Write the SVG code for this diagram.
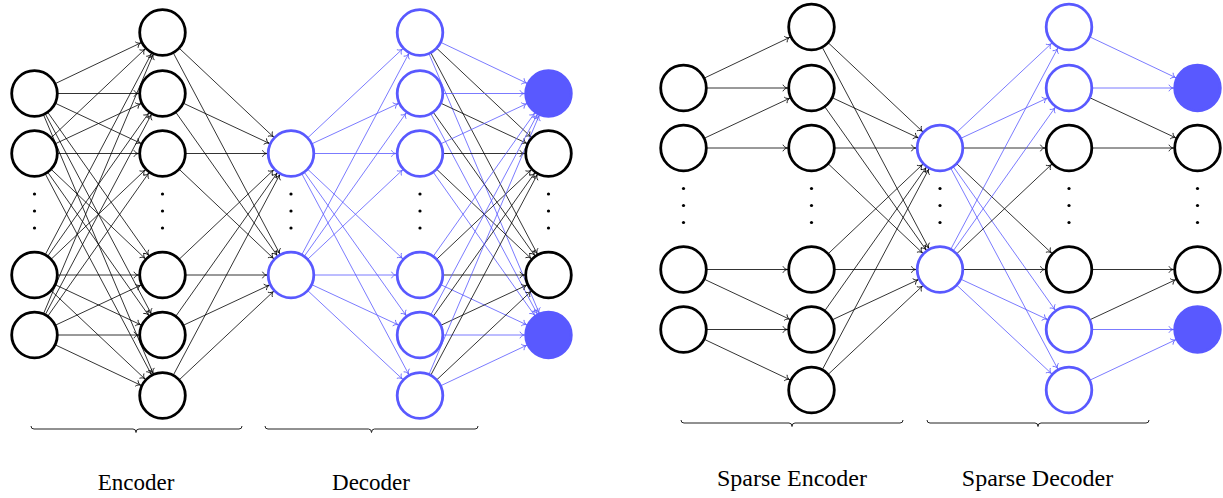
<svg xmlns="http://www.w3.org/2000/svg" width="1223" height="498" viewBox="0 0 1223 498">
<style>
.n{fill:#fff;stroke:#000;stroke-width:2.8}
.b{fill:#fff;stroke:#5959ff;stroke-width:2.8}
.f{fill:#5959ff;stroke:#5959ff;stroke-width:2.8}
.k{stroke:#000;stroke-width:0.8;fill:none;marker-end:url(#ak)}
.u{stroke:#5959ff;stroke-width:0.8;fill:none;marker-end:url(#au)}
.d{fill:#000}
.br{fill:none;stroke:#222;stroke-width:1}
.t{font-family:"Liberation Serif","Times New Roman",serif;text-anchor:middle;fill:#000}
</style>
<defs>
<marker id="ak" markerUnits="userSpaceOnUse" orient="auto" overflow="visible" markerWidth="1" markerHeight="1" refX="0" refY="0">
<path d="M-28.6,-3.3 C-27.6,-1.1 -25.6,-0.3 -24.2,0 C-25.6,0.3 -27.6,1.1 -28.6,3.3" fill="none" stroke="#000" stroke-width="0.8"/>
</marker>
<marker id="au" markerUnits="userSpaceOnUse" orient="auto" overflow="visible" markerWidth="1" markerHeight="1" refX="0" refY="0">
<path d="M-28.6,-3.3 C-27.6,-1.1 -25.6,-0.3 -24.2,0 C-25.6,0.3 -27.6,1.1 -28.6,3.3" fill="none" stroke="#5959ff" stroke-width="0.8"/>
</marker>
</defs>
<g id="connectors">
<!-- left encoder input -> hidden -->
<line class="k" x1="34.5" y1="93.5" x2="162.5" y2="32.5"/>
<line class="k" x1="34.5" y1="93.5" x2="162.5" y2="93.5"/>
<line class="k" x1="34.5" y1="93.5" x2="162.5" y2="153.5"/>
<line class="k" x1="34.5" y1="93.5" x2="162.5" y2="275"/>
<line class="k" x1="34.5" y1="93.5" x2="162.5" y2="335"/>
<line class="k" x1="34.5" y1="93.5" x2="162.5" y2="395.5"/>
<line class="k" x1="34.5" y1="153.5" x2="162.5" y2="32.5"/>
<line class="k" x1="34.5" y1="153.5" x2="162.5" y2="93.5"/>
<line class="k" x1="34.5" y1="153.5" x2="162.5" y2="153.5"/>
<line class="k" x1="34.5" y1="153.5" x2="162.5" y2="275"/>
<line class="k" x1="34.5" y1="153.5" x2="162.5" y2="335"/>
<line class="k" x1="34.5" y1="153.5" x2="162.5" y2="395.5"/>
<line class="k" x1="34.5" y1="275" x2="162.5" y2="32.5"/>
<line class="k" x1="34.5" y1="275" x2="162.5" y2="93.5"/>
<line class="k" x1="34.5" y1="275" x2="162.5" y2="153.5"/>
<line class="k" x1="34.5" y1="275" x2="162.5" y2="275"/>
<line class="k" x1="34.5" y1="275" x2="162.5" y2="335"/>
<line class="k" x1="34.5" y1="275" x2="162.5" y2="395.5"/>
<line class="k" x1="34.5" y1="335" x2="162.5" y2="32.5"/>
<line class="k" x1="34.5" y1="335" x2="162.5" y2="93.5"/>
<line class="k" x1="34.5" y1="335" x2="162.5" y2="153.5"/>
<line class="k" x1="34.5" y1="335" x2="162.5" y2="275"/>
<line class="k" x1="34.5" y1="335" x2="162.5" y2="335"/>
<line class="k" x1="34.5" y1="335" x2="162.5" y2="395.5"/>
<!-- left hidden -> latent -->
<line class="k" x1="162.5" y1="32.5" x2="291" y2="153.5"/>
<line class="k" x1="162.5" y1="32.5" x2="291" y2="275"/>
<line class="k" x1="162.5" y1="93.5" x2="291" y2="153.5"/>
<line class="k" x1="162.5" y1="93.5" x2="291" y2="275"/>
<line class="k" x1="162.5" y1="153.5" x2="291" y2="153.5"/>
<line class="k" x1="162.5" y1="153.5" x2="291" y2="275"/>
<line class="k" x1="162.5" y1="275" x2="291" y2="153.5"/>
<line class="k" x1="162.5" y1="275" x2="291" y2="275"/>
<line class="k" x1="162.5" y1="335" x2="291" y2="153.5"/>
<line class="k" x1="162.5" y1="335" x2="291" y2="275"/>
<line class="k" x1="162.5" y1="395.5" x2="291" y2="153.5"/>
<line class="k" x1="162.5" y1="395.5" x2="291" y2="275"/>
<!-- left latent -> decoder -->
<line class="u" x1="291" y1="153.5" x2="420" y2="32.5"/>
<line class="u" x1="291" y1="153.5" x2="420" y2="93.5"/>
<line class="u" x1="291" y1="153.5" x2="420" y2="153.5"/>
<line class="u" x1="291" y1="153.5" x2="420" y2="275"/>
<line class="u" x1="291" y1="153.5" x2="420" y2="335"/>
<line class="u" x1="291" y1="153.5" x2="420" y2="395.5"/>
<line class="u" x1="291" y1="275" x2="420" y2="32.5"/>
<line class="u" x1="291" y1="275" x2="420" y2="93.5"/>
<line class="u" x1="291" y1="275" x2="420" y2="153.5"/>
<line class="u" x1="291" y1="275" x2="420" y2="275"/>
<line class="u" x1="291" y1="275" x2="420" y2="335"/>
<line class="u" x1="291" y1="275" x2="420" y2="395.5"/>
<!-- left decoder -> output -->
<line class="u" x1="420" y1="32.5" x2="548.5" y2="93.5"/>
<line class="k" x1="420" y1="32.5" x2="548.5" y2="153.5"/>
<line class="k" x1="420" y1="32.5" x2="548.5" y2="275"/>
<line class="u" x1="420" y1="32.5" x2="548.5" y2="335"/>
<line class="u" x1="420" y1="93.5" x2="548.5" y2="93.5"/>
<line class="k" x1="420" y1="93.5" x2="548.5" y2="153.5"/>
<line class="k" x1="420" y1="93.5" x2="548.5" y2="275"/>
<line class="u" x1="420" y1="93.5" x2="548.5" y2="335"/>
<line class="u" x1="420" y1="153.5" x2="548.5" y2="93.5"/>
<line class="k" x1="420" y1="153.5" x2="548.5" y2="153.5"/>
<line class="k" x1="420" y1="153.5" x2="548.5" y2="275"/>
<line class="u" x1="420" y1="153.5" x2="548.5" y2="335"/>
<line class="u" x1="420" y1="275" x2="548.5" y2="93.5"/>
<line class="k" x1="420" y1="275" x2="548.5" y2="153.5"/>
<line class="k" x1="420" y1="275" x2="548.5" y2="275"/>
<line class="u" x1="420" y1="275" x2="548.5" y2="335"/>
<line class="u" x1="420" y1="335" x2="548.5" y2="93.5"/>
<line class="k" x1="420" y1="335" x2="548.5" y2="153.5"/>
<line class="k" x1="420" y1="335" x2="548.5" y2="275"/>
<line class="u" x1="420" y1="335" x2="548.5" y2="335"/>
<line class="u" x1="420" y1="395.5" x2="548.5" y2="93.5"/>
<line class="k" x1="420" y1="395.5" x2="548.5" y2="153.5"/>
<line class="k" x1="420" y1="395.5" x2="548.5" y2="275"/>
<line class="u" x1="420" y1="395.5" x2="548.5" y2="335"/>
<!-- right input -> hidden -->
<line class="k" x1="683.5" y1="88" x2="811.5" y2="27"/>
<line class="k" x1="683.5" y1="88" x2="811.5" y2="88"/>
<line class="k" x1="683.5" y1="148" x2="811.5" y2="88"/>
<line class="k" x1="683.5" y1="148" x2="811.5" y2="148"/>
<line class="k" x1="683.5" y1="269.5" x2="811.5" y2="269.5"/>
<line class="k" x1="683.5" y1="269.5" x2="811.5" y2="329.5"/>
<line class="k" x1="683.5" y1="329.5" x2="811.5" y2="329.5"/>
<line class="k" x1="683.5" y1="329.5" x2="811.5" y2="390"/>
<!-- right hidden -> latent -->
<line class="k" x1="811.5" y1="27" x2="940" y2="148"/>
<line class="k" x1="811.5" y1="27" x2="940" y2="269.5"/>
<line class="k" x1="811.5" y1="88" x2="940" y2="148"/>
<line class="k" x1="811.5" y1="88" x2="940" y2="269.5"/>
<line class="k" x1="811.5" y1="148" x2="940" y2="148"/>
<line class="k" x1="811.5" y1="148" x2="940" y2="269.5"/>
<line class="k" x1="811.5" y1="269.5" x2="940" y2="148"/>
<line class="k" x1="811.5" y1="269.5" x2="940" y2="269.5"/>
<line class="k" x1="811.5" y1="329.5" x2="940" y2="148"/>
<line class="k" x1="811.5" y1="329.5" x2="940" y2="269.5"/>
<line class="k" x1="811.5" y1="390" x2="940" y2="148"/>
<line class="k" x1="811.5" y1="390" x2="940" y2="269.5"/>
<!-- right latent -> decoder -->
<line class="u" x1="940" y1="148" x2="1069" y2="27"/>
<line class="u" x1="940" y1="148" x2="1069" y2="88"/>
<line class="k" x1="940" y1="148" x2="1069" y2="148"/>
<line class="k" x1="940" y1="148" x2="1069" y2="269.5"/>
<line class="u" x1="940" y1="148" x2="1069" y2="329.5"/>
<line class="u" x1="940" y1="148" x2="1069" y2="390"/>
<line class="u" x1="940" y1="269.5" x2="1069" y2="27"/>
<line class="u" x1="940" y1="269.5" x2="1069" y2="88"/>
<line class="k" x1="940" y1="269.5" x2="1069" y2="148"/>
<line class="k" x1="940" y1="269.5" x2="1069" y2="269.5"/>
<line class="u" x1="940" y1="269.5" x2="1069" y2="329.5"/>
<line class="u" x1="940" y1="269.5" x2="1069" y2="390"/>
<!-- right decoder -> output -->
<line class="u" x1="1069" y1="27" x2="1197.5" y2="88"/>
<line class="u" x1="1069" y1="88" x2="1197.5" y2="88"/>
<line class="k" x1="1069" y1="88" x2="1197.5" y2="148"/>
<line class="k" x1="1069" y1="148" x2="1197.5" y2="148"/>
<line class="k" x1="1069" y1="269.5" x2="1197.5" y2="269.5"/>
<line class="k" x1="1069" y1="329.5" x2="1197.5" y2="269.5"/>
<line class="u" x1="1069" y1="329.5" x2="1197.5" y2="329.5"/>
<line class="u" x1="1069" y1="390" x2="1197.5" y2="329.5"/>
</g>
<!-- left network nodes -->
<g id="L-in1"><circle class="n" cx="34.5" cy="93.5" r="22.8"/></g>
<g id="L-in2"><circle class="n" cx="34.5" cy="153.5" r="22.8"/></g>
<g id="L-in3"><circle class="n" cx="34.5" cy="275" r="22.8"/></g>
<g id="L-in4"><circle class="n" cx="34.5" cy="335" r="22.8"/></g>
<g id="L-h1"><circle class="n" cx="162.5" cy="32.5" r="22.8"/></g>
<g id="L-h2"><circle class="n" cx="162.5" cy="93.5" r="22.8"/></g>
<g id="L-h3"><circle class="n" cx="162.5" cy="153.5" r="22.8"/></g>
<g id="L-h4"><circle class="n" cx="162.5" cy="275" r="22.8"/></g>
<g id="L-h5"><circle class="n" cx="162.5" cy="335" r="22.8"/></g>
<g id="L-h6"><circle class="n" cx="162.5" cy="395.5" r="22.8"/></g>
<g id="L-z1"><circle class="b" cx="291" cy="153.5" r="22.8"/></g>
<g id="L-z2"><circle class="b" cx="291" cy="275" r="22.8"/></g>
<g id="L-d1"><circle class="b" cx="420" cy="32.5" r="22.8"/></g>
<g id="L-d2"><circle class="b" cx="420" cy="93.5" r="22.8"/></g>
<g id="L-d3"><circle class="b" cx="420" cy="153.5" r="22.8"/></g>
<g id="L-d4"><circle class="b" cx="420" cy="275" r="22.8"/></g>
<g id="L-d5"><circle class="b" cx="420" cy="335" r="22.8"/></g>
<g id="L-d6"><circle class="b" cx="420" cy="395.5" r="22.8"/></g>
<g id="L-o1"><circle class="f" cx="548.5" cy="93.5" r="22.8"/></g>
<g id="L-o2"><circle class="n" cx="548.5" cy="153.5" r="22.8"/></g>
<g id="L-o3"><circle class="n" cx="548.5" cy="275" r="22.8"/></g>
<g id="L-o4"><circle class="f" cx="548.5" cy="335" r="22.8"/></g>
<!-- right network nodes -->
<g id="R-in1"><circle class="n" cx="683.5" cy="88" r="22.8"/></g>
<g id="R-in2"><circle class="n" cx="683.5" cy="148" r="22.8"/></g>
<g id="R-in3"><circle class="n" cx="683.5" cy="269.5" r="22.8"/></g>
<g id="R-in4"><circle class="n" cx="683.5" cy="329.5" r="22.8"/></g>
<g id="R-h1"><circle class="n" cx="811.5" cy="27" r="22.8"/></g>
<g id="R-h2"><circle class="n" cx="811.5" cy="88" r="22.8"/></g>
<g id="R-h3"><circle class="n" cx="811.5" cy="148" r="22.8"/></g>
<g id="R-h4"><circle class="n" cx="811.5" cy="269.5" r="22.8"/></g>
<g id="R-h5"><circle class="n" cx="811.5" cy="329.5" r="22.8"/></g>
<g id="R-h6"><circle class="n" cx="811.5" cy="390" r="22.8"/></g>
<g id="R-z1"><circle class="b" cx="940" cy="148" r="22.8"/></g>
<g id="R-z2"><circle class="b" cx="940" cy="269.5" r="22.8"/></g>
<g id="R-d1"><circle class="b" cx="1069" cy="27" r="22.8"/></g>
<g id="R-d2"><circle class="b" cx="1069" cy="88" r="22.8"/></g>
<g id="R-d3"><circle class="n" cx="1069" cy="148" r="22.8"/></g>
<g id="R-d4"><circle class="n" cx="1069" cy="269.5" r="22.8"/></g>
<g id="R-d5"><circle class="b" cx="1069" cy="329.5" r="22.8"/></g>
<g id="R-d6"><circle class="b" cx="1069" cy="390" r="22.8"/></g>
<g id="R-o1"><circle class="f" cx="1197.5" cy="88" r="22.8"/></g>
<g id="R-o2"><circle class="n" cx="1197.5" cy="148" r="22.8"/></g>
<g id="R-o3"><circle class="n" cx="1197.5" cy="269.5" r="22.8"/></g>
<g id="R-o4"><circle class="f" cx="1197.5" cy="329.5" r="22.8"/></g>
<!-- ellipsis dots -->
<g id="dots">
<circle class="d" cx="34.5" cy="194" r="1.6"/><circle class="d" cx="34.5" cy="211" r="1.6"/><circle class="d" cx="34.5" cy="228" r="1.6"/>
<circle class="d" cx="162.5" cy="194" r="1.6"/><circle class="d" cx="162.5" cy="211" r="1.6"/><circle class="d" cx="162.5" cy="228" r="1.6"/>
<circle class="d" cx="291" cy="194" r="1.6"/><circle class="d" cx="291" cy="211" r="1.6"/><circle class="d" cx="291" cy="228" r="1.6"/>
<circle class="d" cx="420" cy="194" r="1.6"/><circle class="d" cx="420" cy="211" r="1.6"/><circle class="d" cx="420" cy="228" r="1.6"/>
<circle class="d" cx="548.5" cy="194" r="1.6"/><circle class="d" cx="548.5" cy="211" r="1.6"/><circle class="d" cx="548.5" cy="228" r="1.6"/>
<circle class="d" cx="683.5" cy="188.5" r="1.6"/><circle class="d" cx="683.5" cy="205.5" r="1.6"/><circle class="d" cx="683.5" cy="222.5" r="1.6"/>
<circle class="d" cx="811.5" cy="188.5" r="1.6"/><circle class="d" cx="811.5" cy="205.5" r="1.6"/><circle class="d" cx="811.5" cy="222.5" r="1.6"/>
<circle class="d" cx="940" cy="188.5" r="1.6"/><circle class="d" cx="940" cy="205.5" r="1.6"/><circle class="d" cx="940" cy="222.5" r="1.6"/>
<circle class="d" cx="1069" cy="188.5" r="1.6"/><circle class="d" cx="1069" cy="205.5" r="1.6"/><circle class="d" cx="1069" cy="222.5" r="1.6"/>
<circle class="d" cx="1197.5" cy="188.5" r="1.6"/><circle class="d" cx="1197.5" cy="205.5" r="1.6"/><circle class="d" cx="1197.5" cy="222.5" r="1.6"/>
</g>
<!-- braces and labels -->
<g id="encoder-label">
<path class="br" d="M31,426 Q31,429 34,429 L133,429 Q136,429 136,432.5 Q136,429 139,429 L239,429 Q242,429 242,426"/>
<text class="t" x="136" y="490" font-size="23">Encoder</text>
</g>
<g id="decoder-label">
<path class="br" d="M265,426 Q265,429 268,429 L368.5,429 Q371.5,429 371.5,432.5 Q371.5,429 374.5,429 L475,429 Q478,429 478,426"/>
<text class="t" x="371" y="490" font-size="23">Decoder</text>
</g>
<g id="sparse-encoder-label">
<path class="br" d="M681,420 Q681,423 684,423 L789,423 Q792,423 792,426.5 Q792,423 795,423 L900,423 Q903,423 903,420"/>
<text class="t" x="792" y="486" font-size="24">Sparse Encoder</text>
</g>
<g id="sparse-decoder-label">
<path class="br" d="M927,420 Q927,423 930,423 L1035,423 Q1038,423 1038,426.5 Q1038,423 1041,423 L1146,423 Q1149,423 1149,420"/>
<text class="t" x="1037.5" y="486" font-size="24">Sparse Decoder</text>
</g>
</svg>
